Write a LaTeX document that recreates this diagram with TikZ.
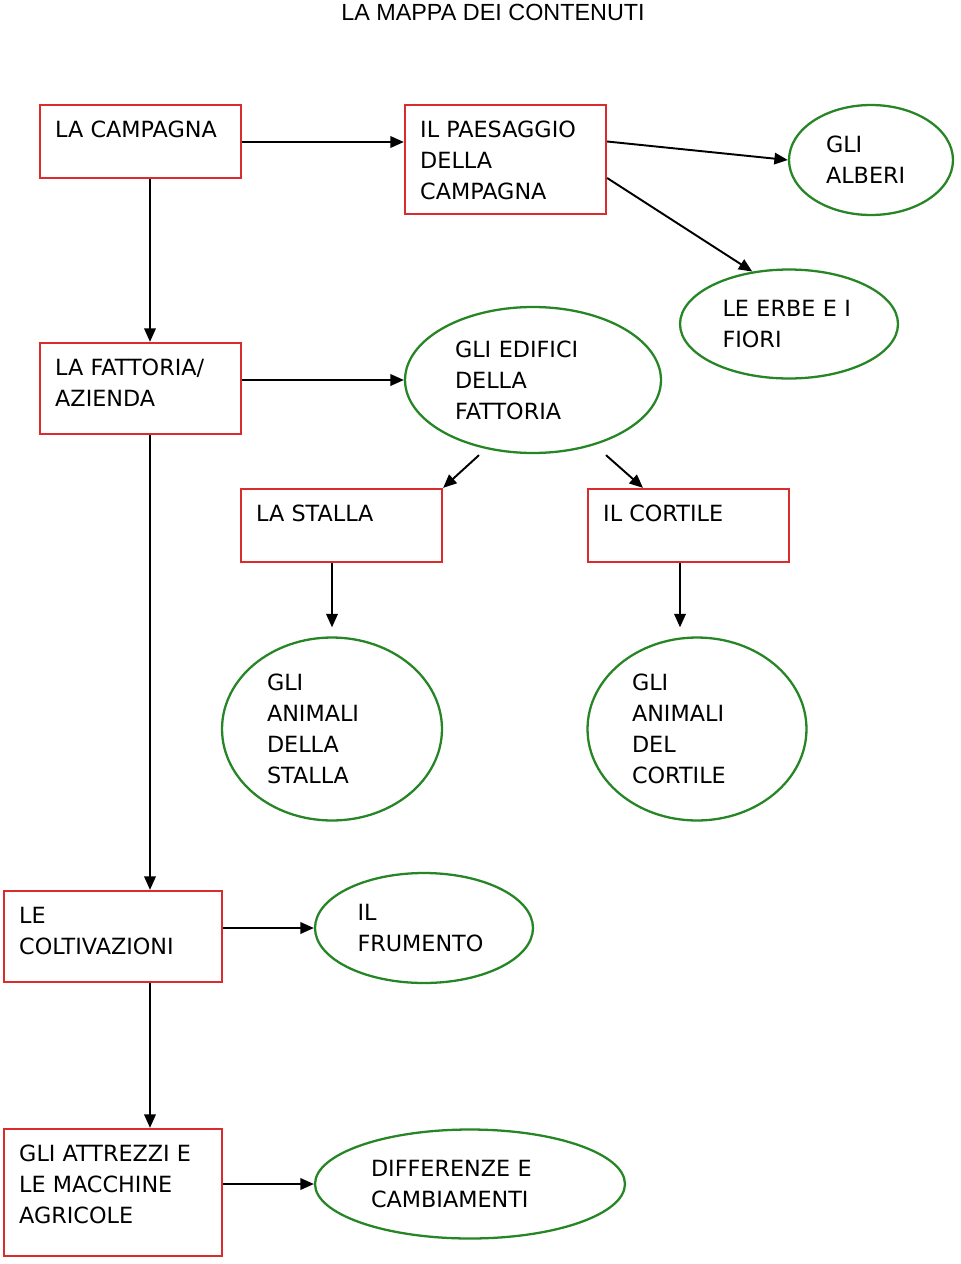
\documentclass[tikz,border=0pt]{standalone}
\usepackage{fontspec}
\setmainfont{DejaVu Sans}
\newfontfamily\titlefont{Liberation Sans}
\usetikzlibrary{arrows.meta, shapes.geometric, positioning}

\definecolor{boxred}{RGB}{218,44,44}
\definecolor{ellgreen}{RGB}{38,134,38}
\newcommand\mapfont{\fontsize{12.7}{17.6}\selectfont}

\tikzset{
  box/.style 2 args={draw=boxred, line width=1.3pt, minimum width=#1, minimum height=#2, inner sep=0pt},
  boxtext/.style={anchor=north west, align=left, inner sep=0pt, xshift=0.32cm, yshift=-0.34cm, font=\mapfont},
  oval/.style n args={3}{ellipse, draw=ellgreen, line width=1.3pt, minimum width=#1, minimum height=#2, text width=#3, align=left, inner sep=0pt, font=\mapfont},
  arr/.style={-{Triangle[length=0.27cm, width=0.23cm]}, line width=1.1pt}
}

\begin{document}
\begin{tikzpicture}[x=0.02cm, y=-0.02cm]
			\useasboundingbox (0,0) rectangle (960,1264);
			\node[font=\titlefont\fontsize{13.3}{16}\selectfont] (title) at (493,12) {LA MAPPA DEI CONTENUTI};
			% boxes
			\node[box={4.02cm}{1.46cm}, label={[boxtext, name=campagna-t]north west:LA CAMPAGNA}] (campagna) at (140.5,141.5) {};
			\node[box={4.02cm}{2.18cm}, label={[boxtext, name=paesaggio-t]north west:{IL PAESAGGIO\\DELLA\\CAMPAGNA}}] (paesaggio) at (505.5,159.5) {};
			\node[box={4.02cm}{1.82cm}, label={[boxtext, name=fattoria-t]north west:{LA FATTORIA/\\AZIENDA}}] (fattoria) at (140.5,388.5) {};
			\node[box={4.02cm}{1.46cm}, label={[boxtext, name=stalla-t]north west:LA STALLA}] (stalla) at (341.5,525.5) {};
			\node[box={4.02cm}{1.46cm}, label={[boxtext, name=cortile-t]north west:IL CORTILE}] (cortile) at (688.5,525.5) {};
			\node[box={4.36cm}{1.82cm}, label={[boxtext, name=coltivazioni-t]north west:{LE\\COLTIVAZIONI}}] (coltivazioni) at (113,936.5) {};
			\node[box={4.36cm}{2.54cm}, label={[boxtext, name=attrezzi-t]north west:{GLI ATTREZZI E\\LE MACCHINE\\AGRICOLE}}] (attrezzi) at (113,1192.5) {};
			% ellipses
			\node[oval={3.28cm}{2.2cm}{1.8cm}] (alberi) at (871,160) {GLI\\ALBERI};
			\node[oval={4.36cm}{2.18cm}{2.66cm}] (erbe) at (789,324) {LE ERBE E I\\FIORI};
			\node[oval={5.12cm}{2.92cm}{3.12cm}] (edifici) at (533,380) {GLI EDIFICI\\DELLA\\FATTORIA};
			\node[oval={4.4cm}{3.66cm}{2.6cm}] (animstalla) at (332,729) {GLI\\ANIMALI\\DELLA\\STALLA};
			\node[oval={4.38cm}{3.66cm}{2.6cm}] (animcortile) at (697,729) {GLI\\ANIMALI\\DEL\\CORTILE};
			\node[oval={4.36cm}{2.2cm}{2.66cm}] (frumento) at (424,928) {IL\\FRUMENTO};
			\node[oval={6.2cm}{2.18cm}{3.96cm}] (differenze) at (470,1184) {DIFFERENZE E\\CAMBIAMENTI};
			% arrows
			\draw[arr] ([yshift=-0.01cm]campagna.east) -- ([yshift=-0.01cm]campagna.east -| paesaggio.west);
			\draw[arr] ([yshift=0.36cm]paesaggio.east) -- (alberi.west);
			\draw[arr] ([yshift=-0.37cm]paesaggio.east) -- (erbe.125);
			\draw[arr] ([xshift=0.19cm]campagna.south) -- ([xshift=0.19cm]fattoria.north);
			\draw[arr] (fattoria.east |- edifici.west) -- (edifici.west);
			\draw[arr] ([xshift=-1.08cm, yshift=-0.02cm]edifici.south) -- (stalla.north east);
			\draw[arr] ([xshift=1.46cm, yshift=-0.02cm]edifici.south) -- ([xshift=-0.91cm]cortile.north);
			\draw[arr] (animstalla.north |- stalla.south) -- ([yshift=0.18cm]animstalla.north);
			\draw[arr] ([xshift=-0.17cm]cortile.south) -- ([xshift=-0.34cm, yshift=0.18cm]animcortile.north);
			\draw[arr] ([xshift=0.19cm]fattoria.south) -- ([xshift=0.74cm]coltivazioni.north);
			\draw[arr] (coltivazioni.east |- frumento.west) -- (frumento.west);
			\draw[arr] ([xshift=0.74cm]coltivazioni.south) -- ([xshift=0.74cm]attrezzi.north);
			\draw[arr] (attrezzi.east |- differenze.west) -- (differenze.west);
		\end{tikzpicture}
\end{document}
